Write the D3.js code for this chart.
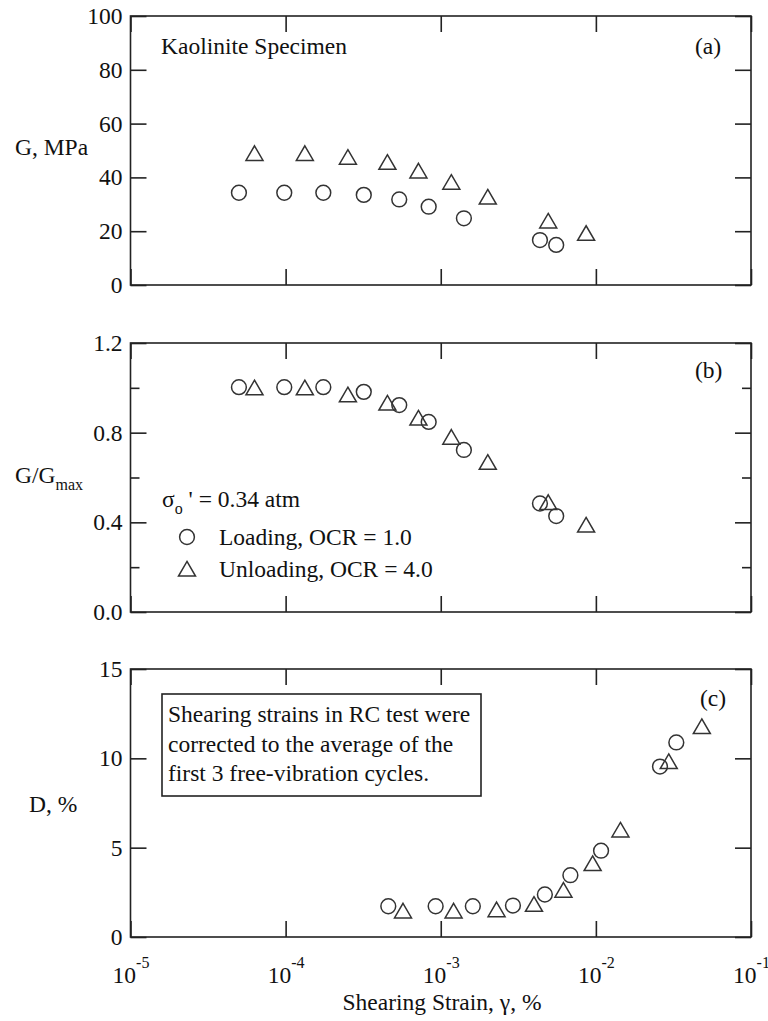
<!DOCTYPE html>
<html>
<head>
<meta charset="utf-8">
<script src="https://cdn.jsdelivr.net/npm/d3@7"></script>
<style> html, body { margin: 0; padding: 0; background: #fff; } svg { display: block; } </style>
</head>
<body>
<svg id="chart" width="768" height="1021"></svg>
<script>
// ---------------- DATA ----------------
// Panel (a) & (b): strains for modulus measurements (%)
const strainLoadG   = [5.0e-5, 9.8e-5, 1.75e-4, 3.19e-4, 5.40e-4, 8.36e-4, 1.41e-3, 4.36e-3, 5.55e-3];
const strainUnloadG = [6.30e-5, 1.33e-4, 2.52e-4, 4.53e-4, 7.18e-4, 1.17e-3, 2.01e-3, 4.93e-3, 8.65e-3];
// Panel (a): G, MPa
const gLoad   = [34.3, 34.3, 34.3, 33.5, 31.8, 29.1, 24.8, 16.7, 14.9];
const gUnload = [48.9, 48.9, 47.5, 45.6, 42.4, 38.2, 32.7, 23.8, 19.2];
// Panel (b): G/Gmax
const ggLoad   = [1.003, 1.003, 1.003, 0.982, 0.923, 0.848, 0.723, 0.484, 0.428];
const ggUnload = [1.0, 1.0, 0.969, 0.932, 0.865, 0.780, 0.668, 0.489, 0.388];
// Panel (c): strains for damping measurements and D, %
const strainLoadD   = [4.59e-4, 9.27e-4, 1.61e-3, 2.92e-3, 4.69e-3, 6.85e-3, 1.08e-2, 2.59e-2, 3.30e-2];
const dLoad         = [1.72, 1.72, 1.72, 1.76, 2.38, 3.46, 4.83, 9.54, 10.89];
const strainUnloadD = [5.71e-4, 1.21e-3, 2.29e-3, 3.99e-3, 6.18e-3, 9.53e-3, 1.44e-2, 2.95e-2, 4.82e-2];
const dUnload       = [1.46, 1.46, 1.53, 1.83, 2.62, 4.11, 5.99, 9.82, 11.78];

// Ticks
const xTicks = [1e-5, 1e-4, 1e-3, 1e-2, 1e-1];
const xTickExp = ["-5", "-4", "-3", "-2", "-1"];
const yTicksA = [0, 20, 40, 60, 80, 100];
const yTicksB = [0, 0.2, 0.4, 0.6, 0.8, 1.0, 1.2];
const yLabelsB = [0, 0.4, 0.8, 1.2];
const yTicksC = [0, 5, 10, 15];

// Texts
const boxLines = ["Shearing strains in RC test were",
                  "corrected to the average of the",
                  "first 3 free-vibration  cycles."];

// ---------------- FONT WARM-UP ----------------
const FONT = "'Liberation Serif', monospace";
(function warm() {
  const c = document.createElement("canvas").getContext("2d");
  ["23px 'Liberation Serif', monospace", "16px 'Liberation Serif', monospace"].forEach(f => {
    c.font = f; c.measureText("Kaolinite Specimen 0123456789 γσ");
  });
  if (document.fonts && document.fonts.load) {
    document.fonts.load("23px 'Liberation Serif'", "Kaolinite γσ");
  }
})();

// ---------------- LAYOUT ----------------
const FS = 23.5, FSS = 16;
const INK = "#111";
const svg = d3.select("#chart");
const X0 = 130.5, X1 = 751;
const x = d3.scaleLog().domain([1e-5, 1e-1]).range([X0, X1]);

const panels = [
  { top: 16,  bottom: 285, domain: [0, 100] },
  { top: 343, bottom: 612, domain: [0, 1.2] },
  { top: 669, bottom: 937, domain: [0, 15] }
];
panels.forEach(p => { p.y = d3.scaleLinear().domain(p.domain).range([p.bottom, p.top]); });

const STROKE = "#222";
const MAJ = 16, MIN = 9;

function styleText(sel, fs) {
  return sel.attr("font-family", FONT).attr("font-size", fs).attr("fill", INK);
}

function frame(p, yTicks, labelSet, fmt) {
  const g = svg.append("g");
  const xb = d3.axisBottom(x).tickValues(xTicks).tickSize(-MAJ).tickFormat(() => "");
  const gxb = g.append("g").attr("transform", `translate(0,${p.bottom})`).call(xb);
  const xt = d3.axisTop(x).tickValues(xTicks).tickSize(-MAJ).tickFormat(() => "");
  const gxt = g.append("g").attr("transform", `translate(0,${p.top})`).call(xt);
  const yl = d3.axisLeft(p.y).tickValues(yTicks).tickSize(-MAJ).tickPadding(8)
    .tickFormat(d => labelSet.some(v => Math.abs(v - d) < 1e-9) ? fmt(d) : "");
  const gyl = g.append("g").attr("transform", `translate(${X0},0)`).call(yl);
  const yr = d3.axisRight(p.y).tickValues(yTicks).tickSize(-MAJ).tickFormat(() => "");
  const gyr = g.append("g").attr("transform", `translate(${X1},0)`).call(yr);
  [gxb, gxt, gyl, gyr].forEach(a => {
    a.attr("font-family", FONT);
    a.select(".domain").remove();
    a.selectAll("line").attr("stroke", STROKE).attr("stroke-width", 1.6);
  });
  [gyl, gyr].forEach((a, i) => {
    a.selectAll(".tick").filter(d => !labelSet.some(v => Math.abs(v - d) < 1e-9))
      .select("line").attr("x2", i === 0 ? MIN : -MIN);
  });
  styleText(gyl.selectAll("text"), FS);
  g.append("rect").attr("x", X0).attr("y", p.top).attr("width", X1 - X0).attr("height", p.bottom - p.top)
    .attr("fill", "none").attr("stroke", STROKE).attr("stroke-width", 1.6);
  return { gxb };
}

const fa = frame(panels[0], yTicksA, yTicksA, d => d3.format("d")(d));
const fb = frame(panels[1], yTicksB, yLabelsB, d => d3.format(".1f")(d));
const fc = frame(panels[2], yTicksC, yTicksC, d => d3.format("d")(d));

// x tick labels (bottom panel only)
fc.gxb.selectAll(".tick").each(function(d, i) {
  const t = styleText(d3.select(this).append("text"), FS)
    .attr("y", 46).attr("text-anchor", "middle");
  t.append("tspan").text("10");
  t.append("tspan").attr("dy", -15).attr("font-size", FSS).text(xTickExp[i]);
});

// markers
const R = 7.4;
const triPath = "M0,-7.6 L8.5,7 L-8.5,7 Z";
function circles(p, xs, ys) {
  svg.append("g").selectAll("circle").data(xs).join("circle")
    .attr("cx", (d) => x(d)).attr("cy", (d, i) => p.y(ys[i])).attr("r", R)
    .attr("fill", "none").attr("stroke", "#333").attr("stroke-width", 1.5);
}
function triangles(p, xs, ys) {
  svg.append("g").selectAll("path").data(xs).join("path")
    .attr("d", triPath)
    .attr("transform", (d, i) => `translate(${x(d)},${p.y(ys[i])})`)
    .attr("fill", "none").attr("stroke", "#333").attr("stroke-width", 1.5);
}
circles(panels[0], strainLoadG, gLoad);
triangles(panels[0], strainUnloadG, gUnload);
circles(panels[1], strainLoadG, ggLoad);
triangles(panels[1], strainUnloadG, ggUnload);
circles(panels[2], strainLoadD, dLoad);
triangles(panels[2], strainUnloadD, dUnload);

// texts
function txt(xp, yp, s, opts = {}) {
  return styleText(svg.append("text"), opts.fs || FS).attr("x", xp).attr("y", yp)
    .attr("text-anchor", opts.anchor || "start").text(s);
}
txt(15, 155, "G, MPa");
txt(161, 54, "Kaolinite Specimen");
txt(695, 54, "(a)");
txt(695, 378, "(b)");
txt(700, 706, "(c)");

const gl = txt(15, 483, "");
gl.append("tspan").text("G/G");
gl.append("tspan").attr("dy", 7).attr("font-size", FSS).text("max");

const sg = txt(162, 507, "");
sg.append("tspan").text("σ");
sg.append("tspan").attr("dy", 7).attr("font-size", FSS).text("o");
sg.append("tspan").attr("dy", -7).text(" ' = 0.34 atm");

svg.append("circle").attr("cx", 187).attr("cy", 537).attr("r", R)
  .attr("fill", "none").attr("stroke", "#333").attr("stroke-width", 1.5);
txt(219, 545, "Loading, OCR = 1.0");
svg.append("path").attr("d", triPath).attr("transform", "translate(187,569)")
  .attr("fill", "none").attr("stroke", "#333").attr("stroke-width", 1.5);
txt(219, 577, "Unloading, OCR = 4.0");

txt(29, 812, "D, %");

svg.append("rect").attr("x", 162).attr("y", 694).attr("width", 319).attr("height", 102)
  .attr("fill", "none").attr("stroke", STROKE).attr("stroke-width", 1.6);
boxLines.forEach((s, i) => txt(168, 722 + i * 29.5, s));

txt(442, 1010, "Shearing Strain, γ, %", { anchor: "middle" });
</script>
</body>
</html>
